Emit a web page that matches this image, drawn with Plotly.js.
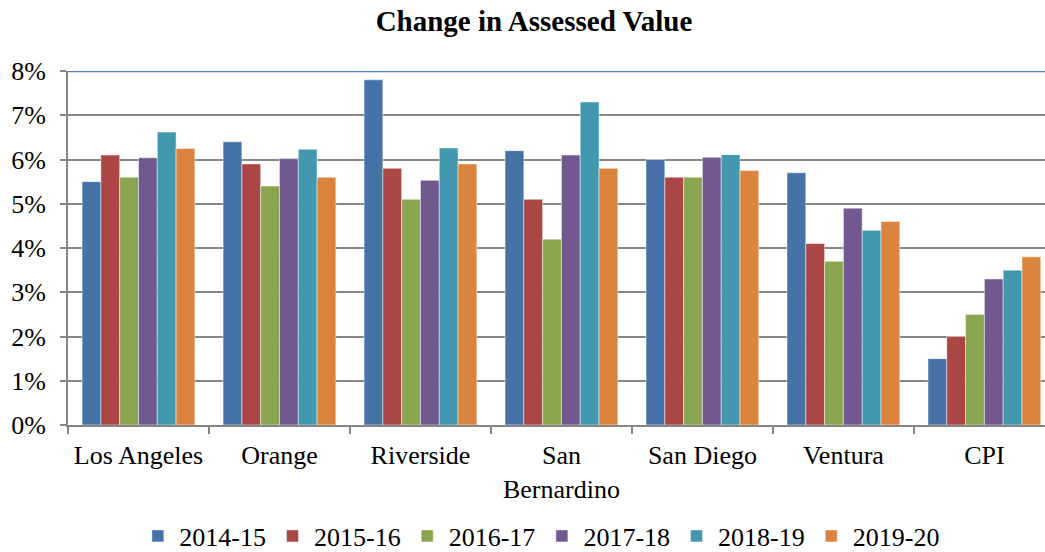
<!DOCTYPE html>
<html>
<head>
<meta charset="utf-8">
<script src="https://cdn.plot.ly/plotly-3.0.1.min.js"></script>
<style>html,body{margin:0;padding:0;background:#fff}#chart{width:1045px;height:552px}</style>
</head>
<body>
<div id="chart"></div>
<script>
const categories = ["Los Angeles", "Orange", "Riverside", "San<br>Bernardino", "San Diego", "Ventura", "CPI"];
const seriesNames = ["2014-15", "2015-16", "2016-17", "2017-18", "2018-19", "2019-20"];
const v2014_15 = [5.5, 6.4, 7.8, 6.2, 6.0, 5.7, 1.5];
const v2015_16 = [6.1, 5.9, 5.8, 5.1, 5.6, 4.1, 2.0];
const v2016_17 = [5.6, 5.4, 5.1, 4.2, 5.6, 3.7, 2.5];
const v2017_18 = [6.04, 6.02, 5.53, 6.1, 6.05, 4.9, 3.3];
const v2018_19 = [6.62, 6.23, 6.26, 7.3, 6.11, 4.4, 3.5];
const v2019_20 = [6.25, 5.6, 5.9, 5.8, 5.75, 4.6, 3.8];
const yTickVals = [0, 1, 2, 3, 4, 5, 6, 7, 8];
const yTickText = ["0%", "1%", "2%", "3%", "4%", "5%", "6%", "7%", "8%"];
const colors = ["#4572A7", "#AA4643", "#89A54E", "#71588F", "#4198AF", "#DB843D"];
const allValues = [v2014_15, v2015_16, v2016_17, v2017_18, v2018_19, v2019_20];
const yMax = 8;

const font = "Liberation Serif";
const traces = allValues.map((vals, i) => ({
  type: "bar",
  name: seriesNames[i],
  x: categories,
  y: vals,
  marker: {color: colors[i], line: {color: "rgba(255,255,255,0.6)", width: 0.8}},
  hoverinfo: "x+y"
}));

const layout = {
  width: 1045, height: 552,
  margin: {l: 68, r: 0, t: 71, b: 127, autoexpand: false},
  paper_bgcolor: "#fff", plot_bgcolor: "#fff",
  title: {text: "<b>Change in Assessed Value</b>", font: {family: font, size: 29, color: "#000"}, x: 0.511, xanchor: "center", y: 0.962, yanchor: "middle"},
  font: {family: font, size: 26, color: "#000"},
  barmode: "group",
  bargap: 0.2,
  bargroupgap: 0,
  xaxis: {
    type: "category",
    range: [-0.5, 6.43],
    showline: true, linecolor: "#868686", linewidth: 2,
    ticks: "outside", tickson: "boundaries", ticklen: 7, tickcolor: "#868686", tickwidth: 2,
    showgrid: false, zeroline: false, automargin: false,
    ticklabelstandoff: 6,
    tickfont: {family: font, size: 26, color: "#000"}
  },
  yaxis: {
    range: [0, yMax],
    tickvals: yTickVals, ticktext: yTickText,
    showline: true, linecolor: "#868686", linewidth: 2,
    ticks: "outside", ticklen: 6, tickcolor: "#868686", tickwidth: 2,
    showgrid: true, gridcolor: "#868686", gridwidth: 2,
    zeroline: false, automargin: false,
    ticklabelstandoff: 9,
    tickfont: {family: font, size: 26, color: "#000"}
  },
  shapes: [{type: "line", xref: "paper", yref: "y", x0: 0, x1: 1, y0: yMax, y1: yMax, line: {color: "#4F81BD", width: 2.5}}],
  legend: {
    orientation: "h", x: 0.484, xanchor: "center", y: 0.029, yref: "container", yanchor: "middle",
    font: {family: font, size: 26, color: "#000"},
    itemwidth: 33, tracegroupgap: 0
  },
  showlegend: true
};

Plotly.newPlot("chart", traces, layout, {displayModeBar: false, staticPlot: true});
</script>
</body>
</html>
